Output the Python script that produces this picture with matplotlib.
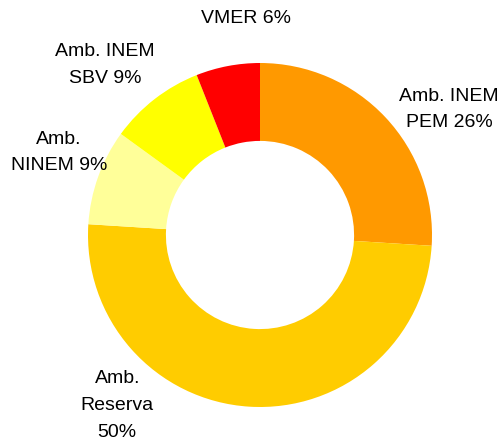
import matplotlib.pyplot as plt

# slice data, clockwise from 12 o'clock
labels = ['Amb. INEM\nPEM', 'Amb.\nReserva\n', 'Amb.\nNINEM', 'Amb. INEM\nSBV', 'VMER']
values = [26, 50, 9, 9, 6]
colors = ['#FF9900', '#FFCC00', '#FFFF99', '#FFFF00', '#FF0000']

# label centres in data units (radius = 1)
label_pos = [(1.10, 0.73), (-0.83, -0.99), (-1.17, 0.48), (-0.90, 0.99), (-0.08, 1.26)]

plt.rcParams['font.family'] = ['Liberation Sans', 'DejaVu Sans']

fig = plt.figure(figsize=(5.04, 4.48), dpi=100)
ax = fig.add_axes([0, 0, 1, 1])

ax.pie(values, colors=colors, startangle=90, counterclock=False,
       radius=1, wedgeprops=dict(width=0.453, linewidth=0))

for lab, v, (x, y) in zip(labels, values, label_pos):
    sep = '' if lab.endswith('\n') else ' '
    ax.text(x, y, f'{lab}{sep}{v}%', ha='center', va='center',
            fontsize=14, linespacing=1.75, color='black')

ax.set_xlim(-260 / 172, (504 - 260) / 172)
ax.set_ylim(-(448 - 235) / 172, 235 / 172)
ax.set_aspect('auto')
ax.axis('off')

plt.savefig('out.png', dpi=100)
